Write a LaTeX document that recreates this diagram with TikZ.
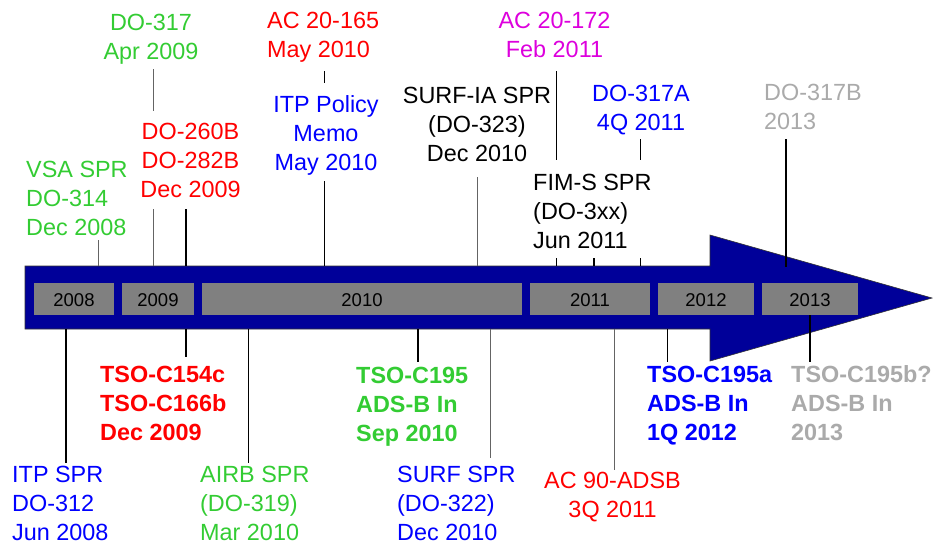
\documentclass[tikz,border=0pt]{standalone}
\usepackage{fontspec}
\setmainfont{Liberation Sans}
\definecolor{arrowblue}{RGB}{0,0,153}
\definecolor{boxgray}{RGB}{128,128,128}
\definecolor{tgreen}{RGB}{51,204,51}
\definecolor{tred}{RGB}{255,0,0}
\definecolor{tblue}{RGB}{0,0,255}
\definecolor{tmag}{RGB}{221,0,221}
\definecolor{tgray}{RGB}{170,170,170}
\definecolor{lgray}{RGB}{100,100,100}
\tikzset{
  lbl/.style={font=\fontsize{23.4}{29}\selectfont, inner sep=0pt},
  blbl/.style={font=\fontsize{23.4}{29}\selectfont\bfseries, inner sep=0pt},
  yearbox/.style={fill=boxgray, draw=none},
  yr/.style={font=\fontsize{18.5}{22}\selectfont, inner sep=0pt, anchor=base},
  thk/.style={line width=2pt, black},
  thn/.style={line width=1pt, black},
  thg/.style={line width=1pt, lgray},
}
\begin{document}
\begin{tikzpicture}[x=1pt,y=-1pt]
\useasboundingbox (0,0) rectangle (933,544);
% arrow
\path[fill=arrowblue, draw=black!80, line width=0.6pt]
  (25,266) -- (710,266) -- (710,235) -- (932,298) -- (710,361) -- (710,329) -- (25,329) -- cycle;
% connector end coordinates
\coordinate (a1) at (98,240);   \coordinate (b1) at (98,266);
\coordinate (a2) at (153,69);   \coordinate (m2) at (153,111);
\coordinate (n2) at (153,209);  \coordinate (b2) at (153,266);
\coordinate (a3) at (186,209);  \coordinate (b3) at (186,266);
\coordinate (a4) at (324,71);   \coordinate (m4) at (324,83);
\coordinate (n4) at (324,181);  \coordinate (b4) at (324,266);
\coordinate (a5) at (477,177);  \coordinate (b5) at (477,266);
\coordinate (a6) at (556,71);   \coordinate (m6) at (556,160);
\coordinate (n6) at (556,258);  \coordinate (b6) at (556,266);
\coordinate (a7) at (640,139);  \coordinate (m7) at (640,160);
\coordinate (n7) at (640,258);  \coordinate (b7) at (640,266);
\coordinate (a8) at (594,258);  \coordinate (b8) at (594,266);
\coordinate (a9) at (786,139);  \coordinate (b9) at (786,267);
\coordinate (a10) at (186,329); \coordinate (b10) at (186,357);
\coordinate (a11) at (66,329);  \coordinate (b11) at (66,463);
\coordinate (a12) at (248,329); \coordinate (b12) at (248,463);
\coordinate (a13) at (418,329); \coordinate (b13) at (418,362);
\coordinate (a14) at (490,329); \coordinate (b14) at (490,458);
\coordinate (a15) at (614,329); \coordinate (b15) at (614,470);
\coordinate (a16) at (667,329); \coordinate (b16) at (667,362);
\coordinate (a17) at (810,315); \coordinate (b17) at (810,362);
% connectors
\draw[thg] (a1) -- (b1);
\draw[thg] (a2) -- (m2);
\draw[thg] (n2) -- (b2);
\draw[thk] (a3) -- (b3);
\draw[thn] (a4) -- (m4);
\draw[thn] (n4) -- (b4);
\draw[thg] (a5) -- (b5);
\draw[thn] (a6) -- (m6);
\draw[thn] (n6) -- (b6);
\draw[thn] (a7) -- (m7);
\draw[thn] (n7) -- (b7);
\draw[thk] (a8) -- (b8);
\draw[thk] (a9) -- (b9);
\draw[thk] (a10) -- (b10);
\draw[thk] (a11) -- (b11);
\draw[thn] (a12) -- (b12);
\draw[thk] (a13) -- (b13);
\draw[thg] (a14) -- (b14);
\draw[thg] (a15) -- (b15);
\draw[thn] (a16) -- (b16);
\draw[thk] (a17) -- (b17);
% year boxes
\fill[yearbox] (34,283) rectangle (114,315);
\fill[yearbox] (122,283) rectangle (194,315);
\fill[yearbox] (202,283) rectangle (522,315);
\fill[yearbox] (530,283) rectangle (650,315);
\fill[yearbox] (658,283) rectangle (754,315);
\fill[yearbox] (762,283) rectangle (858,315);
\node[yr] (y8) at (74,306) {2008};
\node[yr] (y9) at (158,306) {2009};
\node[yr] (y10) at (362,306) {2010};
\node[yr] (y11) at (590,306) {2011};
\node[yr] (y12) at (706,306) {2012};
\node[yr] (y13) at (810,306) {2013};
% top labels (base anchor = baseline of last line)
\node[lbl, text=tgreen, align=center, anchor=base] (t1) at (151,59) {DO-317\\Apr 2009};
\node[lbl, text=tgreen, align=left, anchor=base west] (t2) at (26,235) {VSA SPR\\DO-314\\Dec 2008};
\node[lbl, text=tred, align=center, anchor=base] (t3) at (190.5,197) {DO-260B\\DO-282B\\Dec 2009};
\node[lbl, text=tred, align=left, anchor=base west] (t4) at (267,57) {AC 20-165\\May 2010};
\node[lbl, text=tblue, align=center, anchor=base] (t5) at (326,170) {ITP Policy\\Memo\\May 2010};
\node[lbl, text=black, align=center, anchor=base] (t6) at (477,161) {SURF-IA SPR\\(DO-323)\\Dec 2010};
\node[lbl, text=tmag, align=center, anchor=base] (t7) at (554.5,57) {AC 20-172\\Feb 2011};
\node[lbl, text=tblue, align=center, anchor=base] (t8) at (641,130) {DO-317A\\4Q 2011};
\node[lbl, text=black, align=left, anchor=base west] (t9) at (533,248) {FIM-S SPR\\(DO-3xx)\\Jun 2011};
\node[lbl, text=tgray, align=left, anchor=base west] (t10) at (764,129) {DO-317B\\2013};
% bottom labels
\node[blbl, text=tred, align=left, anchor=base west] (u1) at (100,440) {TSO-C154c\\TSO-C166b\\Dec 2009};
\node[lbl, text=tblue, align=left, anchor=base west] (u2) at (12,540) {ITP SPR\\DO-312\\Jun 2008};
\node[lbl, text=tgreen, align=left, anchor=base west] (u3) at (200,540) {AIRB SPR\\(DO-319)\\Mar 2010};
\node[blbl, text=tgreen, align=left, anchor=base west] (u4) at (356,441) {TSO-C195\\ADS-B In\\Sep 2010};
\node[lbl, text=tblue, align=left, anchor=base west] (u5) at (397,540) {SURF SPR\\(DO-322)\\Dec 2010};
\node[lbl, text=tred, align=center, anchor=base] (u6) at (612.5,517) {AC 90-ADSB\\3Q 2011};
\node[blbl, text=tblue, align=left, anchor=base west] (u7) at (647,440) {TSO-C195a\\ADS-B In\\1Q 2012};
\node[blbl, text=tgray, align=left, anchor=base west] (u8) at (791,440) {TSO-C195b?\\ADS-B In\\2013};
\end{tikzpicture}
\end{document}
